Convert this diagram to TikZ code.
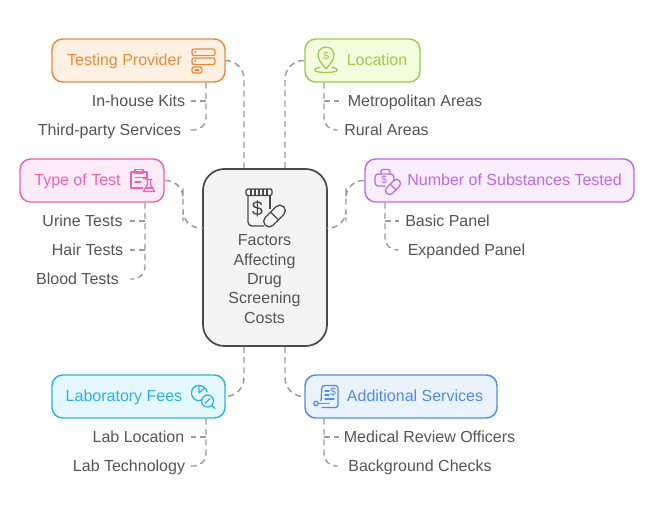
\documentclass[tikz,border=0pt]{standalone}
\usepackage{fontspec}
\setmainfont{Liberation Sans}
\usetikzlibrary{arrows.meta,positioning}

\definecolor{orangeline}{HTML}{E88A3C}
\definecolor{orangefill}{HTML}{FEF0E3}
\definecolor{greenline}{HTML}{9CCB4C}
\definecolor{greenfill}{HTML}{F3FDDD}
\definecolor{pinkline}{HTML}{EC62B6}
\definecolor{pinkfill}{HTML}{FDEBF7}
\definecolor{purpleline}{HTML}{C067EA}
\definecolor{purplefill}{HTML}{F8EEFE}
\definecolor{cyanline}{HTML}{2BB2E4}
\definecolor{cyanfill}{HTML}{E6F8FF}
\definecolor{blueline}{HTML}{4F8DEB}
\definecolor{bluefill}{HTML}{EAF2FE}
\definecolor{hubline}{HTML}{4A4A4A}
\definecolor{hubfill}{HTML}{F4F4F4}
\definecolor{inktext}{HTML}{555555}
\definecolor{linkgray}{HTML}{9B9B9B}

\tikzset{
  groupbox/.style={draw=#1line,fill=#1fill,line width=1.1pt,rounded corners=8pt,
    minimum height=32.25pt,inner sep=0pt},
  grouptext/.style={text=#1line,font=\fontsize{12}{14}\selectfont,inner sep=0pt,
    text height=9.6pt,text depth=1.4pt},
  itemtext/.style={text=inktext,font=\fontsize{12}{14}\selectfont,inner sep=0pt,
    text height=9.6pt,text depth=1.4pt},
  link/.style={draw=linkgray,line width=1.1pt,dash pattern=on 4.5pt off 3.2pt},
  icon/.style={draw=#1line,line width=0.95pt,line join=round,line cap=round},
  dollar/.style={text=#1line,font=\fontsize{8}{8}\selectfont,inner sep=0pt}
}

\begin{document}
\begin{tikzpicture}[x=0.75pt,y=-0.75pt]
  \useasboundingbox (0,0) rectangle (655,516);
  \fill[white] (0,0) rectangle (655,516);

  % centre
  \node[draw=hubline,fill=hubfill,line width=1.3pt,rounded corners=16pt,
    minimum width=93pt,minimum height=132.75pt,inner sep=0pt] (hub) at (265,257.5) {};
  \node[text=inktext,inner sep=0pt,align=center,
    font=\fontsize{12}{14.55}\selectfont] (hubtext) at (264.5,279)
    {Factors\\Affecting\\Drug\\Screening\\Costs};

  % group boxes
  \foreach \nm/\cx/\cy/\w/\col in {provider/138.5/60.5/173/orange,location/362.5/60.5/115/green,
    typetest/92/180.5/144/pink,substances/499.5/180.5/269/purple,
    labfees/138.5/396.5/173/cyan,services/401/396.5/192/blue}{
    \node[groupbox=\col,minimum width=\w*0.75pt] (\nm) at (\cx,\cy) {};
  }
  \foreach \nm/\cx/\cy/\col/\lab in {providerlab/124.5/60.5/orange/Testing Provider,
    locationlab/377/60.5/green/Location,typetestlab/77.5/180.5/pink/Type of Test,
    substanceslab/514.5/180.5/purple/Number of Substances Tested,
    labfeeslab/124/396.5/cyan/Laboratory Fees,serviceslab/415/396.5/blue/Additional Services}{
    \node[grouptext=\col] (\nm) at (\cx,\cy) {\lab};
  }

  % items: centre of text, width up to the end of the link
  \foreach \nm/\cx/\cy/\w/\lab in {kits/138.5/101/105/In-house Kits,third/109.5/130/161/Third-party Services,
    metro/415/101/152/Metropolitan Areas,rural/386.5/130/97/Rural Areas,
    urine/82.5/221/95/Urine Tests,hair/87.5/250/85/Hair Tests,blood/77.5/279/105/Blood Tests,
    basic/447.5/221/97/Basic Panel,expanded/466.5/250/135/Expanded Panel,
    lablocation/138.5/437/105/Lab Location,labtech/129/466/122/Lab Technology,
    medical/429.5/437/181/Medical Review Officers,background/420/466/164/Background Checks}{
    \node[itemtext,minimum width=\w*0.75pt] (\nm) at (\cx,\cy) {\lab};
  }

  % hub links
  \coordinate (hubleft) at (244,346);
  \coordinate (hubright) at (285,346);
  \coordinate (hubwest) at (203,228);
  \coordinate (hubeast) at (327,228);
  \coordinate (jogleft) at (183,204);
  \coordinate (jogright) at (346,204);
  \draw[link,rounded corners=14pt] (provider.east) -| (hubleft |- hub.north);
  \draw[link,rounded corners=14pt] (location.west) -| (hubright |- hub.north);
  \draw[link,rounded corners=13pt] (typetest.east) -| (jogleft) |- (hubwest);
  \draw[link,rounded corners=13pt] (substances.west) -| (jogright) |- (hubeast);
  \draw[link,rounded corners=14pt] (hubleft |- hub.south) |- (labfees.east);
  \draw[link,rounded corners=14pt] (hubright |- hub.south) |- (services.west);

  % item links
  \foreach \nm/\bus/\last in {provider/206/third.east,location/324/rural.west,typetest/145/blood.east,
    substances/385/expanded.west,labfees/206/labtech.east,services/324/background.west}{
    \draw[link,rounded corners=9pt] (\bus,0 |- \nm.south) -- (\bus,0 |- \last) -- (\last);
  }
  \foreach \nm/\bus in {kits.east/206,metro.west/324,urine.east/145,hair.east/145,basic.west/385,
    lablocation.east/206,medical.west/324}{
    \draw[link] (\bus,0 |- \nm) -- (\nm);
  }

  % icon: server stack
  \draw[icon=orange,rounded corners=1.5pt] (192,49) rectangle (215,55.5);
  \draw[icon=orange,rounded corners=1.5pt] (192,58) rectangle (215,64.5);
  \draw[icon=orange,rounded corners=1.5pt] (192,67) rectangle (202,73);
  \draw[icon=orange] (195,52) -- (195.5,52) (195,61) -- (195.5,61) (195,70) -- (199,70);

  % icon: map pin
  \draw[icon=green] (326,69) .. controls (321,63) and (318,59) .. (318,55)
    arc[start angle=180,end angle=360,radius=8]
    .. controls (334,59) and (331,63) .. (326,69);
  \draw[icon=green] (320,67.5) .. controls (312,68.5) and (312,72.5) .. (326,72.5)
    .. controls (340,72.5) and (340,68.5) .. (332,67.5);
  \node[dollar=green] (pindollar) at (326,55.5) {\$};

  % icon: clipboard and flask
  \draw[icon=pink] (143,178) -- (147,178) -- (147,172) -- (131,172) -- (131,188) -- (143,188);
  \draw[icon=pink] (135,173) -- (135,169.5) -- (143,169.5) -- (143,173) -- cycle;
  \draw[icon=pink] (135,177.5) -- (143,177.5) (135,182) -- (141,182);
  \draw[icon=pink] (146,179.5) -- (152,179.5) (147.5,180) -- (147.5,184.5) -- (143.5,191.5) -- (154.5,191.5) -- (150.5,184.5) -- (150.5,180);
  \draw[icon=pink] (145.5,188) -- (152.5,188);

  % icon: case and pill
  \draw[icon=purple,rounded corners=2.5pt] (385,186) -- (375,186) -- (375,174) -- (394,174) -- (394,181);
  \draw[icon=purple,rounded corners=1.5pt] (381,174) -- (381,169.5) -- (390,169.5) -- (390,174);
  \node[dollar=purple] (casedollar) at (384,180) {\$};
  \begin{scope}[shift={(393,187)},rotate=45]
    \draw[icon=purple,rounded corners=3pt] (-9,-4) rectangle (9,4);
    \draw[icon=purple] (0,-4) -- (0,4);
  \end{scope}

  % icon: pie and lens
  \draw[icon=cyan] (199,385.5) -- (199,393) -- (204.5,388);
  \draw[icon=cyan] (202,400) .. controls (196,402.5) and (191.5,398) .. (191.5,393)
    .. controls (191.5,388) and (195,385.5) .. (199,385.5)
    .. controls (203,385.5) and (206,388) .. (207,392);
  \draw[icon=cyan] (207.5,401) circle[radius=6];
  \draw[icon=cyan] (205,403.5) -- (210,398.5) (212,405.5) -- (215,408.5);

  % icon: document
  \draw[icon=blue,rounded corners=2pt] (321,401) -- (322,385.5) -- (338,385.5) -- (338,407.5) -- (322,407.5);
  \draw[icon=blue] (318.5,403.5) -- (329,403.5);
  \draw[icon=blue] (316,403.5) circle[radius=2.2];
  \draw[icon=blue] (325,391) -- (329,391) (325,395) -- (329,395) (325,399) -- (334,399);
  \node[dollar=blue] (docdollar) at (333,392) {\$};

  % icon: jar and pill
  \draw[hubline,line width=1pt,rounded corners=1.5pt] (246,189) rectangle (272,195.5);
  \draw[hubline,line width=0.9pt] (251,189) -- (251,195.5) (255,189) -- (255,195.5)
    (259,189) -- (259,195.5) (263,189) -- (263,195.5) (267,189) -- (267,195.5);
  \draw[hubline,line width=1pt,rounded corners=3pt] (248,195.5) -- (248,226) -- (264,226);
  \draw[hubline,line width=1pt] (270,195.5) -- (270,209);
  \node[text=hubline,font=\fontsize{15}{15}\selectfont,inner sep=0pt] (jardollar) at (257.5,209) {\$};
  \begin{scope}[shift={(274.5,216)},rotate=45]
    \draw[hubline,line width=1pt,rounded corners=4pt] (-13,-5.5) rectangle (13,5.5);
    \draw[hubline,line width=1pt] (0,-5.5) -- (0,5.5);
  \end{scope}
\end{tikzpicture}
\end{document}
